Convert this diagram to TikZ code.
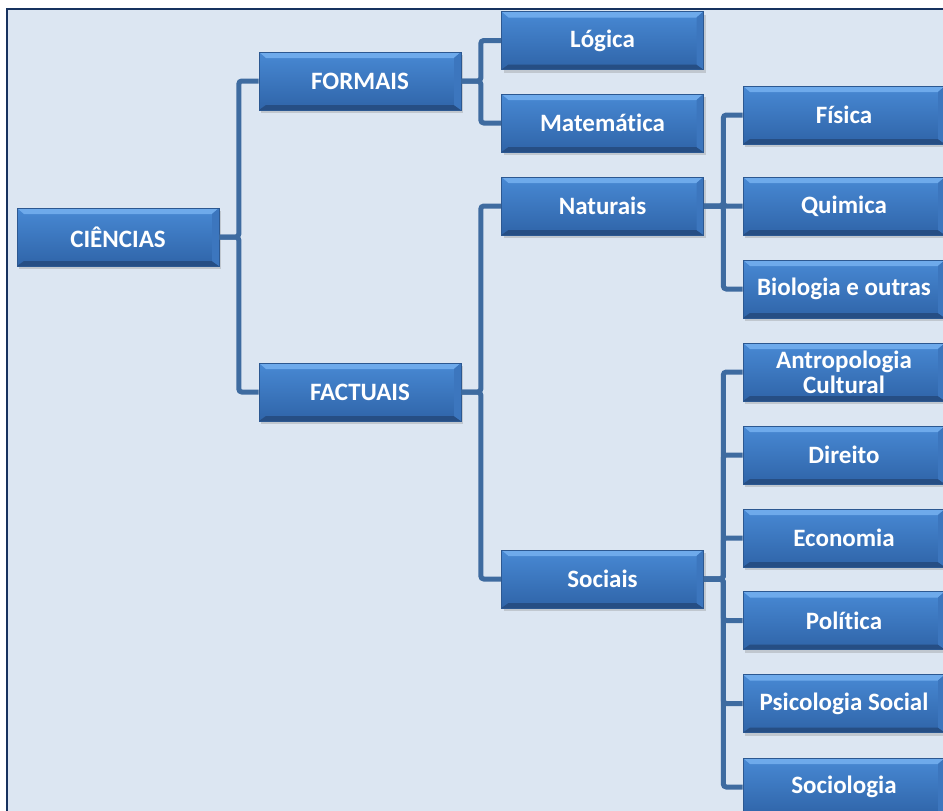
\documentclass[tikz,border=0pt]{standalone}
\usepackage{fontspec}
\setmainfont{Carlito}[Ligatures=NoCommon]
\usetikzlibrary{shadows}
\definecolor{framebg}{RGB}{220,230,242}
\definecolor{frameline}{RGB}{23,50,95}
\definecolor{linkcol}{RGB}{62,107,160}
\definecolor{boxtop}{RGB}{72,137,212}
\definecolor{boxbot}{RGB}{47,100,168}
\definecolor{boxedge}{RGB}{44,88,145}
\definecolor{bevlight}{RGB}{110,170,235}
\definecolor{bevdark}{RGB}{38,78,132}
\definecolor{bevside}{RGB}{60,118,190}

\begin{document}
\begin{tikzpicture}[x=1pt, y=-1pt,
    box/.style={minimum width=202pt, minimum height=58pt, inner sep=2pt,
        align=center, text=white, font=\bfseries\fontsize{25}{25}\selectfont,
        top color=boxtop, bottom color=boxbot, draw=boxedge, line width=0.6pt,
        drop shadow={shadow xshift=2pt, shadow yshift=-3pt, opacity=0.3},
        path picture={
            \fill[bevlight] (path picture bounding box.north west) -- (path picture bounding box.north east)
                -- ([xshift=-7pt,yshift=-6pt]path picture bounding box.north east)
                -- ([xshift=7pt,yshift=-6pt]path picture bounding box.north west) -- cycle;
            \fill[bevdark] (path picture bounding box.south west) -- (path picture bounding box.south east)
                -- ([xshift=-7pt,yshift=5pt]path picture bounding box.south east)
                -- ([xshift=7pt,yshift=5pt]path picture bounding box.south west) -- cycle;
            \fill[bevside] (path picture bounding box.north east)
                -- ([xshift=-7pt,yshift=-6pt]path picture bounding box.north east)
                -- ([xshift=-7pt,yshift=5pt]path picture bounding box.south east)
                -- (path picture bounding box.south east) -- cycle;
        }},
    link/.style={draw=linkcol, line width=5pt, rounded corners=3pt}]
    \useasboundingbox (0,0) rectangle (943,811);
    \clip (0,0) rectangle (943,811);
    \fill[white] (0,0) rectangle (943,811);
    \draw[frameline, fill=framebg, line width=2.5pt] (7,9) rectangle (970,840);

    % Root and first level
    \node[box] (ciencias) at (118,237) {CIÊNCIAS};
    \node[box] (formais) at (360,81) {FORMAIS};
    \node[box] (factuais) at (360,392) {FACTUAIS};

    % Second level
    \node[box] (logica) at (602.5,40.5) {Lógica};
    \node[box] (matematica) at (602.5,123) {Matemática};
    \node[box] (naturais) at (602.5,206) {Naturais};
    \node[box] (sociais) at (602.5,579) {Sociais};

    % Third level
    \foreach \name/\y/\txt in {fisica/115/Física, quimica/206/Quimica,
                               biologia/289/Biologia e outras,
                               antropologia/372/{Antropologia\\Cultural},
                               direito/455/Direito, economia/538/Economia,
                               politica/620.5/Política, psicologia/703.5/Psicologia Social,
                               sociologia/787/Sociologia} {
        \node[box] (\name) at (844,\y) {\txt};
    }

    % Connectors
    \foreach \a/\b in {ciencias/formais, ciencias/factuais,
                       formais/logica, formais/matematica,
                       factuais/naturais, factuais/sociais,
                       naturais/fisica, naturais/quimica, naturais/biologia,
                       sociais/antropologia, sociais/direito, sociais/economia,
                       sociais/politica, sociais/psicologia, sociais/sociologia} {
        \draw[link] (\a.east) -- ++(19.5,0) |- (\b.west);
    }
\end{tikzpicture}
\end{document}
